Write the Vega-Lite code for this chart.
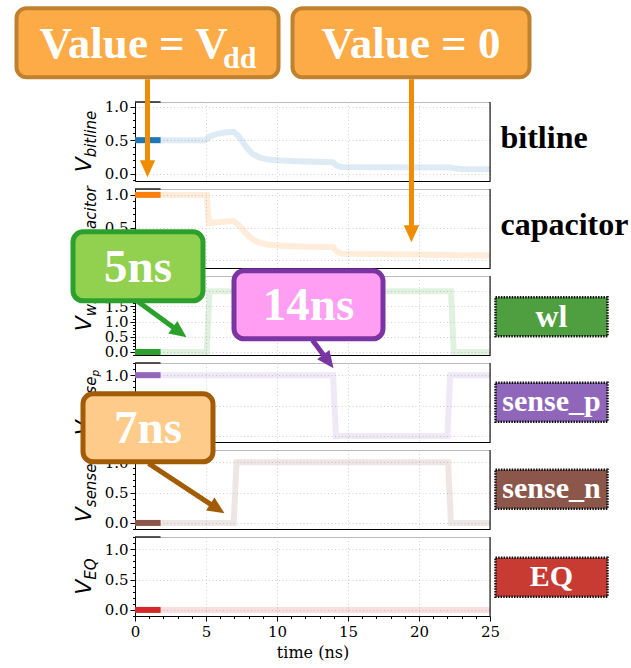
{
"$schema": "https://vega.github.io/schema/vega-lite/v6.json",
"padding": {"left": 14, "top": 5, "right": 0, "bottom": 2},
"background": "white",
"spacing": 8,
"bounds": "flush",
"config": {
 "view": {"stroke": "#bbbbbb", "strokeWidth": 1},
 "axis": {"labelFont": "DejaVu Serif", "labelFontSize": 15, "labelColor": "#000000", "domainColor": "#000000", "domainWidth": 1, "tickColor": "#000000", "tickWidth": 1, "gridColor": "#d2d2d2", "gridDash": [1, 2.5], "gridWidth": 1, "titleFont": "DejaVu Serif", "titleFontWeight": "normal", "titleColor": "#000000", "labelOverlap": false, "labelFlush": false, "labelPadding": 2}
},
"datasets": {
 "bitline": [{"t":0,"v":0.5},{"t":4.95,"v":0.5},{"t":5.3,"v":0.56},{"t":5.8,"v":0.595},{"t":6.3,"v":0.615},{"t":6.95,"v":0.625},{"t":7.2,"v":0.58},{"t":7.5,"v":0.5},{"t":7.9,"v":0.38},{"t":8.3,"v":0.29},{"t":8.8,"v":0.24},{"t":9.4,"v":0.21},{"t":10.3,"v":0.195},{"t":12,"v":0.18},{"t":13.95,"v":0.17},{"t":14.2,"v":0.12},{"t":14.5,"v":0.1},{"t":18,"v":0.095},{"t":22.2,"v":0.092},{"t":22.6,"v":0.075},{"t":23,"v":0.068},{"t":25,"v":0.066}],
 "bitline_now": [{"t":0,"v":0.5},{"t":1.8,"v":0.5}],
 "capacitor": [{"t":0,"v":1},{"t":5.05,"v":1},{"t":5.2,"v":0.57},{"t":6.2,"v":0.59},{"t":6.95,"v":0.6},{"t":7.3,"v":0.54},{"t":7.7,"v":0.44},{"t":8.1,"v":0.35},{"t":8.6,"v":0.28},{"t":9.3,"v":0.24},{"t":10.2,"v":0.22},{"t":12,"v":0.205},{"t":13.95,"v":0.2},{"t":14.25,"v":0.13},{"t":14.55,"v":0.1},{"t":16,"v":0.095},{"t":20,"v":0.085},{"t":22.5,"v":0.078},{"t":25,"v":0.07}],
 "capacitor_now": [{"t":0,"v":1},{"t":1.8,"v":1}],
 "wl": [{"t":0,"v":0},{"t":5.05,"v":0},{"t":5.25,"v":2},{"t":22.25,"v":2},{"t":22.45,"v":0},{"t":25,"v":0}],
 "wl_now": [{"t":0,"v":0},{"t":1.8,"v":0}],
 "sense_p": [{"t":0,"v":1},{"t":13.95,"v":1},{"t":14.15,"v":0},{"t":22.0,"v":0},{"t":22.2,"v":1},{"t":25,"v":1}],
 "sense_p_now": [{"t":0,"v":1},{"t":1.8,"v":1}],
 "sense_n": [{"t":0,"v":0},{"t":6.95,"v":0},{"t":7.15,"v":1},{"t":22.05,"v":1},{"t":22.25,"v":0},{"t":25,"v":0}],
 "sense_n_now": [{"t":0,"v":0},{"t":1.8,"v":0}],
 "EQ": [{"t":0,"v":0},{"t":25,"v":0}],
 "EQ_now": [{"t":0,"v":0},{"t":1.8,"v":0}]
},
"vconcat": [
 {"width": 355, "height": 79,
  "encoding": {"x": {"field": "t", "type": "quantitative", "scale": {"domain": [0, 25], "nice": false, "zero": false}, "axis": {"values": [0,5,10,15,20,25], "labels": false, "ticks": false, "title": null}},
   "y": {"field": "v", "type": "quantitative", "scale": {"domain": [-0.11, 1.07], "nice": false, "zero": false}, "axis": {"title": null, "values": [-0.1,0,0.1,0.2,0.3,0.4,0.5,0.6,0.7,0.8,0.9,1], "labelExpr": "indexof([0,0.5,1,1.5,2], datum.value) >= 0 ? format(datum.value, '.1f') : ''", "tickSize": {"condition": {"test": "indexof([0,0.5,1,1.5,2], datum.value) >= 0", "value": 5}, "value": 2.5}, "gridOpacity": {"condition": {"test": "indexof([0,0.5,1,1.5,2], datum.value) >= 0", "value": 1}, "value": 0}}}},
  "layer": [
  {"data": {"name": "bitline"}, "mark": {"type": "line", "color": "#1f77b4", "opacity": 0.15, "strokeWidth": 6, "strokeCap": "butt"}},
  {"data": {"name": "bitline_now"}, "mark": {"type": "line", "color": "#1f77b4", "strokeWidth": 6, "strokeCap": "butt"}},
  {"data": {"values": [{"t": 25, "v": -0.11, "v2": 1.07}]}, "mark": {"type": "rule", "color": "#000000", "strokeWidth": 1}, "encoding": {"y2": {"field": "v2"}}},
  {"data": {"values": [{"t": 0, "t2": 1.8, "v": 1.07}]}, "mark": {"type": "rule", "color": "#222222", "strokeWidth": 1.5}, "encoding": {"x2": {"field": "t2"}}},
  {"data": {"values": [{"t": -3.13, "v": 0.019, "label": "V"}]}, "mark": {"type": "text", "font": "DejaVu Sans", "fontStyle": "italic", "fontSize": 22, "angle": 270, "align": "left", "baseline": "alphabetic", "color": "#000000", "clip": false}, "encoding": {"text": {"field": "label"}}},
  {"data": {"values": [{"t": -2.78, "v": 0.243, "label": "bitline"}]}, "mark": {"type": "text", "font": "DejaVu Sans", "fontStyle": "italic", "fontSize": 15, "angle": 270, "align": "left", "baseline": "alphabetic", "color": "#000000", "clip": false}, "encoding": {"text": {"field": "label"}}},
  {"data": {"values": [{"t": 25.74, "v": 0.378, "label": "bitline"}]}, "mark": {"type": "text", "font": "Liberation Serif", "fontWeight": "bold", "fontSize": 32, "align": "left", "baseline": "alphabetic", "color": "#000000", "clip": false}, "encoding": {"text": {"field": "label"}}}
 ]},
 {"width": 355, "height": 79,
  "encoding": {"x": {"field": "t", "type": "quantitative", "scale": {"domain": [0, 25], "nice": false, "zero": false}, "axis": {"values": [0,5,10,15,20,25], "labels": false, "ticks": false, "title": null}},
   "y": {"field": "v", "type": "quantitative", "scale": {"domain": [-0.12, 1.09], "nice": false, "zero": false}, "axis": {"title": null, "values": [-0.1,0,0.1,0.2,0.3,0.4,0.5,0.6,0.7,0.8,0.9,1], "labelExpr": "indexof([0,0.5,1,1.5,2], datum.value) >= 0 ? format(datum.value, '.1f') : ''", "tickSize": {"condition": {"test": "indexof([0,0.5,1,1.5,2], datum.value) >= 0", "value": 5}, "value": 2.5}, "gridOpacity": {"condition": {"test": "indexof([0,0.5,1,1.5,2], datum.value) >= 0", "value": 1}, "value": 0}}}},
  "layer": [
  {"data": {"name": "capacitor"}, "mark": {"type": "line", "color": "#ff7f0e", "opacity": 0.15, "strokeWidth": 6, "strokeCap": "butt"}},
  {"data": {"name": "capacitor_now"}, "mark": {"type": "line", "color": "#ff7f0e", "strokeWidth": 6, "strokeCap": "butt"}},
  {"data": {"values": [{"t": 25, "v": -0.12, "v2": 1.09}]}, "mark": {"type": "rule", "color": "#000000", "strokeWidth": 1}, "encoding": {"y2": {"field": "v2"}}},
  {"data": {"values": [{"t": 0, "t2": 1.8, "v": 1.09}]}, "mark": {"type": "rule", "color": "#222222", "strokeWidth": 1.5}, "encoding": {"x2": {"field": "t2"}}},
  {"data": {"values": [{"t": -3.13, "v": -0.164, "label": "V"}]}, "mark": {"type": "text", "font": "DejaVu Sans", "fontStyle": "italic", "fontSize": 22, "angle": 270, "align": "left", "baseline": "alphabetic", "color": "#000000", "clip": false}, "encoding": {"text": {"field": "label"}}},
  {"data": {"values": [{"t": -2.78, "v": 0.065, "label": "capacitor"}]}, "mark": {"type": "text", "font": "DejaVu Sans", "fontStyle": "italic", "fontSize": 15, "angle": 270, "align": "left", "baseline": "alphabetic", "color": "#000000", "clip": false}, "encoding": {"text": {"field": "label"}}},
  {"data": {"values": [{"t": 25.74, "v": 0.381, "label": "capacitor"}]}, "mark": {"type": "text", "font": "Liberation Serif", "fontWeight": "bold", "fontSize": 32, "align": "left", "baseline": "alphabetic", "color": "#000000", "clip": false}, "encoding": {"text": {"field": "label"}}},
  {"data": {"values": [{"t": 0.88, "v": 2.77, "v2": 1.5}, {"t": 19.47, "v": 2.77, "v2": 0.51}]}, "mark": {"type": "rule", "color": "#f08c00", "strokeWidth": 5, "strokeCap": "butt", "clip": false}, "encoding": {"y2": {"field": "v2"}}},
  {"data": {"values": [{"t": 0.88, "v": 1.269}, {"t": 19.47, "v": 0.274}]}, "mark": {"type": "point", "shape": "M0,0L-0.9,-2L0.9,-2Z", "size": 289, "filled": true, "fill": "#f08c00", "strokeWidth": 0, "opacity": 1, "clip": false}},
  {"data": {"values": [{"t": -8.345, "t2": 10.106, "v": 3.858, "v2": 2.801}, {"t": 11.092, "t2": 27.782, "v": 3.858, "v2": 2.801}]}, "mark": {"type": "rect", "fill": "#fdab46", "stroke": "#c0812f", "strokeWidth": 4, "cornerRadius": 10, "clip": false}, "encoding": {"x2": {"field": "t2"}, "y2": {"field": "v2"}}},
  {"data": {"values": [{"t": -6.725, "v": 3.096, "label": "Value = V"}]}, "mark": {"type": "text", "font": "Liberation Serif", "fontWeight": "bold", "fontSize": 45, "align": "left", "baseline": "alphabetic", "color": "#ffffff", "clip": false}, "encoding": {"text": {"field": "label"}}},
  {"data": {"values": [{"t": 6.2, "v": 2.943, "label": "dd"}]}, "mark": {"type": "text", "font": "Liberation Serif", "fontWeight": "bold", "fontSize": 30, "align": "left", "baseline": "alphabetic", "color": "#ffffff", "clip": false}, "encoding": {"text": {"field": "label"}}},
  {"data": {"values": [{"t": 19.437, "v": 3.096, "label": "Value = 0"}]}, "mark": {"type": "text", "font": "Liberation Serif", "fontWeight": "bold", "fontSize": 45, "align": "center", "baseline": "alphabetic", "color": "#ffffff", "clip": false}, "encoding": {"text": {"field": "label"}}}
 ]},
 {"width": 355, "height": 79,
  "encoding": {"x": {"field": "t", "type": "quantitative", "scale": {"domain": [0, 25], "nice": false, "zero": false}, "axis": {"values": [0,5,10,15,20,25], "labels": false, "ticks": false, "title": null}},
   "y": {"field": "v", "type": "quantitative", "scale": {"domain": [-0.1, 2.5], "nice": false, "zero": false}, "axis": {"title": null, "values": [-0.1,0,0.1,0.2,0.3,0.4,0.5,0.6,0.7,0.8,0.9,1,1.1,1.2,1.3,1.4,1.5,1.6,1.7,1.8,1.9,2,2.1,2.2,2.3,2.4,2.5], "labelExpr": "indexof([0,0.5,1,1.5,2], datum.value) >= 0 ? format(datum.value, '.1f') : ''", "tickSize": {"condition": {"test": "indexof([0,0.5,1,1.5,2], datum.value) >= 0", "value": 5}, "value": 2.5}, "gridOpacity": {"condition": {"test": "indexof([0,0.5,1,1.5,2], datum.value) >= 0", "value": 1}, "value": 0}}}},
  "layer": [
  {"data": {"name": "wl"}, "mark": {"type": "line", "color": "#2ca02c", "opacity": 0.15, "strokeWidth": 6, "strokeCap": "butt"}},
  {"data": {"name": "wl_now"}, "mark": {"type": "line", "color": "#2ca02c", "strokeWidth": 6, "strokeCap": "butt"}},
  {"data": {"values": [{"t": 25, "v": -0.1, "v2": 2.5}]}, "mark": {"type": "rule", "color": "#000000", "strokeWidth": 1}, "encoding": {"y2": {"field": "v2"}}},
  {"data": {"values": [{"t": 0, "t2": 1.8, "v": 2.5}]}, "mark": {"type": "rule", "color": "#222222", "strokeWidth": 1.5}, "encoding": {"x2": {"field": "t2"}}},
  {"data": {"values": [{"t": -3.13, "v": 0.683, "label": "V"}]}, "mark": {"type": "text", "font": "DejaVu Sans", "fontStyle": "italic", "fontSize": 22, "angle": 270, "align": "left", "baseline": "alphabetic", "color": "#000000", "clip": false}, "encoding": {"text": {"field": "label"}}},
  {"data": {"values": [{"t": -2.78, "v": 1.177, "label": "wl"}]}, "mark": {"type": "text", "font": "DejaVu Sans", "fontStyle": "italic", "fontSize": 15, "angle": 270, "align": "left", "baseline": "alphabetic", "color": "#000000", "clip": false}, "encoding": {"text": {"field": "label"}}},
  {"data": {"values": [{"t": 25.387, "t2": 33.275, "v": 1.799, "v2": 0.515}]}, "mark": {"type": "rect", "fill": "#4f9e40", "stroke": "#111111", "strokeWidth": 2.5, "strokeDash": [1.5, 1.2], "clip": false}, "encoding": {"x2": {"field": "t2"}, "y2": {"field": "v2"}}},
  {"data": {"values": [{"t": 29.33, "v": 1.157, "label": "wl"}]}, "mark": {"type": "text", "font": "Liberation Serif", "fontWeight": "bold", "fontSize": 32, "align": "center", "baseline": "middle", "color": "#ffffff", "clip": false}, "encoding": {"text": {"field": "label"}}},
  {"data": {"values": [{"t": 0.176, "v": 1.667, "t2": 2.782, "v2": 0.779}]}, "mark": {"type": "rule", "color": "#2ca02c", "strokeWidth": 5, "strokeCap": "butt", "clip": false}, "encoding": {"x2": {"field": "t2"}, "y2": {"field": "v2"}}},
  {"data": {"values": [{"t": 3.627, "v": 0.483}]}, "mark": {"type": "point", "shape": "M0,0L-0.9,-2L0.9,-2Z", "size": 289, "angle": -53.7, "filled": true, "fill": "#2ca02c", "strokeWidth": 0, "opacity": 1, "clip": false}},
  {"data": {"values": [{"t": -4.366, "t2": 4.789, "v": 3.955, "v2": 1.684}]}, "mark": {"type": "rect", "fill": "#92d050", "stroke": "#2ca02c", "strokeWidth": 5, "cornerRadius": 10, "clip": false}, "encoding": {"x2": {"field": "t2"}, "y2": {"field": "v2"}}},
  {"data": {"values": [{"t": 0.211, "v": 2.293, "label": "5ns"}]}, "mark": {"type": "text", "font": "Liberation Serif", "fontWeight": "bold", "fontSize": 47, "align": "center", "baseline": "alphabetic", "color": "#ffffff", "clip": false}, "encoding": {"text": {"field": "label"}}}
 ]},
 {"width": 355, "height": 79,
  "encoding": {"x": {"field": "t", "type": "quantitative", "scale": {"domain": [0, 25], "nice": false, "zero": false}, "axis": {"values": [0,5,10,15,20,25], "labels": false, "ticks": false, "title": null}},
   "y": {"field": "v", "type": "quantitative", "scale": {"domain": [-0.1, 1.2], "nice": false, "zero": false}, "axis": {"title": null, "values": [-0.1,0,0.1,0.2,0.3,0.4,0.5,0.6,0.7,0.8,0.9,1,1.1,1.2], "labelExpr": "indexof([0,0.5,1,1.5,2], datum.value) >= 0 ? format(datum.value, '.1f') : ''", "tickSize": {"condition": {"test": "indexof([0,0.5,1,1.5,2], datum.value) >= 0", "value": 5}, "value": 2.5}, "gridOpacity": {"condition": {"test": "indexof([0,0.5,1,1.5,2], datum.value) >= 0", "value": 1}, "value": 0}}}},
  "layer": [
  {"data": {"name": "sense_p"}, "mark": {"type": "line", "color": "#9467bd", "opacity": 0.15, "strokeWidth": 6, "strokeCap": "butt"}},
  {"data": {"name": "sense_p_now"}, "mark": {"type": "line", "color": "#9467bd", "strokeWidth": 6, "strokeCap": "butt"}},
  {"data": {"values": [{"t": 25, "v": -0.1, "v2": 1.2}]}, "mark": {"type": "rule", "color": "#000000", "strokeWidth": 1}, "encoding": {"y2": {"field": "v2"}}},
  {"data": {"values": [{"t": 0, "t2": 1.8, "v": 1.2}]}, "mark": {"type": "rule", "color": "#222222", "strokeWidth": 1.5}, "encoding": {"x2": {"field": "t2"}}},
  {"data": {"values": [{"t": -3.13, "v": 0.012, "label": "V"}]}, "mark": {"type": "text", "font": "DejaVu Sans", "fontStyle": "italic", "fontSize": 22, "angle": 270, "align": "left", "baseline": "alphabetic", "color": "#000000", "clip": false}, "encoding": {"text": {"field": "label"}}},
  {"data": {"values": [{"t": -2.78, "v": 0.259, "label": "sense"}]}, "mark": {"type": "text", "font": "DejaVu Sans", "fontStyle": "italic", "fontSize": 15, "angle": 270, "align": "left", "baseline": "alphabetic", "color": "#000000", "clip": false}, "encoding": {"text": {"field": "label"}}},
  {"data": {"values": [{"t": -2.57, "v": 0.976, "label": "p"}]}, "mark": {"type": "text", "font": "DejaVu Sans", "fontStyle": "italic", "fontSize": 10.5, "angle": 270, "align": "left", "baseline": "alphabetic", "color": "#000000", "clip": false}, "encoding": {"text": {"field": "label"}}},
  {"data": {"values": [{"t": 25.387, "t2": 33.275, "v": 0.874, "v2": 0.232}]}, "mark": {"type": "rect", "fill": "#9066bb", "stroke": "#111111", "strokeWidth": 2.5, "strokeDash": [1.5, 1.2], "clip": false}, "encoding": {"x2": {"field": "t2"}, "y2": {"field": "v2"}}},
  {"data": {"values": [{"t": 29.33, "v": 0.553, "label": "sense_p"}]}, "mark": {"type": "text", "font": "Liberation Serif", "fontWeight": "bold", "fontSize": 30, "align": "center", "baseline": "middle", "color": "#ffffff", "clip": false}, "encoding": {"text": {"field": "label"}}},
  {"data": {"values": [{"t": 12.5, "v": 1.574, "t2": 13.345, "v2": 1.31}]}, "mark": {"type": "rule", "color": "#7a35a3", "strokeWidth": 5, "strokeCap": "butt", "clip": false}, "encoding": {"x2": {"field": "t2"}, "y2": {"field": "v2"}}},
  {"data": {"values": [{"t": 13.979, "v": 1.113}]}, "mark": {"type": "point", "shape": "M0,0L-0.9,-2L0.9,-2Z", "size": 289, "angle": -36.9, "filled": true, "fill": "#7a35a3", "strokeWidth": 0, "opacity": 1, "clip": false}},
  {"data": {"values": [{"t": 6.972, "t2": 17.465, "v": 2.717, "v2": 1.598}]}, "mark": {"type": "rect", "fill": "#ff9ef2", "stroke": "#7a35a3", "strokeWidth": 5, "cornerRadius": 10, "clip": false}, "encoding": {"x2": {"field": "t2"}, "y2": {"field": "v2"}}},
  {"data": {"values": [{"t": 12.218, "v": 1.903, "label": "14ns"}]}, "mark": {"type": "text", "font": "Liberation Serif", "fontWeight": "bold", "fontSize": 47, "align": "center", "baseline": "alphabetic", "color": "#ffffff", "clip": false}, "encoding": {"text": {"field": "label"}}}
 ]},
 {"width": 355, "height": 79,
  "encoding": {"x": {"field": "t", "type": "quantitative", "scale": {"domain": [0, 25], "nice": false, "zero": false}, "axis": {"values": [0,5,10,15,20,25], "labels": false, "ticks": false, "title": null}},
   "y": {"field": "v", "type": "quantitative", "scale": {"domain": [-0.1, 1.2], "nice": false, "zero": false}, "axis": {"title": null, "values": [-0.1,0,0.1,0.2,0.3,0.4,0.5,0.6,0.7,0.8,0.9,1,1.1,1.2], "labelExpr": "indexof([0,0.5,1,1.5,2], datum.value) >= 0 ? format(datum.value, '.1f') : ''", "tickSize": {"condition": {"test": "indexof([0,0.5,1,1.5,2], datum.value) >= 0", "value": 5}, "value": 2.5}, "gridOpacity": {"condition": {"test": "indexof([0,0.5,1,1.5,2], datum.value) >= 0", "value": 1}, "value": 0}}}},
  "layer": [
  {"data": {"name": "sense_n"}, "mark": {"type": "line", "color": "#8c564b", "opacity": 0.15, "strokeWidth": 6, "strokeCap": "butt"}},
  {"data": {"name": "sense_n_now"}, "mark": {"type": "line", "color": "#8c564b", "strokeWidth": 6, "strokeCap": "butt"}},
  {"data": {"values": [{"t": 25, "v": -0.1, "v2": 1.2}]}, "mark": {"type": "rule", "color": "#000000", "strokeWidth": 1}, "encoding": {"y2": {"field": "v2"}}},
  {"data": {"values": [{"t": 0, "t2": 1.8, "v": 1.2}]}, "mark": {"type": "rule", "color": "#222222", "strokeWidth": 1.5}, "encoding": {"x2": {"field": "t2"}}},
  {"data": {"values": [{"t": -3.13, "v": 0.012, "label": "V"}]}, "mark": {"type": "text", "font": "DejaVu Sans", "fontStyle": "italic", "fontSize": 22, "angle": 270, "align": "left", "baseline": "alphabetic", "color": "#000000", "clip": false}, "encoding": {"text": {"field": "label"}}},
  {"data": {"values": [{"t": -2.78, "v": 0.259, "label": "sense"}]}, "mark": {"type": "text", "font": "DejaVu Sans", "fontStyle": "italic", "fontSize": 15, "angle": 270, "align": "left", "baseline": "alphabetic", "color": "#000000", "clip": false}, "encoding": {"text": {"field": "label"}}},
  {"data": {"values": [{"t": -2.57, "v": 0.976, "label": "n"}]}, "mark": {"type": "text", "font": "DejaVu Sans", "fontStyle": "italic", "fontSize": 10.5, "angle": 270, "align": "left", "baseline": "alphabetic", "color": "#000000", "clip": false}, "encoding": {"text": {"field": "label"}}},
  {"data": {"values": [{"t": 25.387, "t2": 33.275, "v": 0.874, "v2": 0.232}]}, "mark": {"type": "rect", "fill": "#8c564b", "stroke": "#111111", "strokeWidth": 2.5, "strokeDash": [1.5, 1.2], "clip": false}, "encoding": {"x2": {"field": "t2"}, "y2": {"field": "v2"}}},
  {"data": {"values": [{"t": 29.33, "v": 0.553, "label": "sense_n"}]}, "mark": {"type": "text", "font": "Liberation Serif", "fontWeight": "bold", "fontSize": 30, "align": "center", "baseline": "middle", "color": "#ffffff", "clip": false}, "encoding": {"text": {"field": "label"}}},
  {"data": {"values": [{"t": 0.951, "v": 0.981, "t2": 5.387, "v2": 0.298}]}, "mark": {"type": "rule", "color": "#a35c06", "strokeWidth": 5, "strokeCap": "butt", "clip": false}, "encoding": {"x2": {"field": "t2"}, "y2": {"field": "v2"}}},
  {"data": {"values": [{"t": 6.303, "v": 0.158}]}, "mark": {"type": "point", "shape": "M0,0L-0.9,-2L0.9,-2Z", "size": 289, "angle": -56.7, "filled": true, "fill": "#a35c06", "strokeWidth": 0, "opacity": 1, "clip": false}},
  {"data": {"values": [{"t": -3.662, "t2": 5.493, "v": 2.125, "v2": 1.006}]}, "mark": {"type": "rect", "fill": "#fecb8a", "stroke": "#a35c06", "strokeWidth": 5, "cornerRadius": 10, "clip": false}, "encoding": {"x2": {"field": "t2"}, "y2": {"field": "v2"}}},
  {"data": {"values": [{"t": 0.915, "v": 1.31, "label": "7ns"}]}, "mark": {"type": "text", "font": "Liberation Serif", "fontWeight": "bold", "fontSize": 47, "align": "center", "baseline": "alphabetic", "color": "#ffffff", "clip": false}, "encoding": {"text": {"field": "label"}}}
 ]},
 {"width": 355, "height": 79,
  "encoding": {"x": {"field": "t", "type": "quantitative", "scale": {"domain": [0, 25], "nice": false, "zero": false}, "axis": {"title": "time (ns)", "titleFont": "DejaVu Serif", "titleFontSize": 16, "titleFontWeight": "normal", "titlePadding": 5, "labelPadding": 3, "values": [0,1,2,3,4,5,6,7,8,9,10,11,12,13,14,15,16,17,18,19,20,21,22,23,24,25], "labelExpr": "datum.value % 5 === 0 ? datum.label : ''", "tickSize": {"condition": {"test": "datum.value % 5 === 0", "value": 5}, "value": 2.5}, "gridOpacity": {"condition": {"test": "datum.value % 5 === 0", "value": 1}, "value": 0}}},
   "y": {"field": "v", "type": "quantitative", "scale": {"domain": [-0.1, 1.2], "nice": false, "zero": false}, "axis": {"title": null, "values": [-0.1,0,0.1,0.2,0.3,0.4,0.5,0.6,0.7,0.8,0.9,1,1.1,1.2], "labelExpr": "indexof([0,0.5,1,1.5,2], datum.value) >= 0 ? format(datum.value, '.1f') : ''", "tickSize": {"condition": {"test": "indexof([0,0.5,1,1.5,2], datum.value) >= 0", "value": 5}, "value": 2.5}, "gridOpacity": {"condition": {"test": "indexof([0,0.5,1,1.5,2], datum.value) >= 0", "value": 1}, "value": 0}}}},
  "layer": [
  {"data": {"name": "EQ"}, "mark": {"type": "line", "color": "#d62728", "opacity": 0.15, "strokeWidth": 6, "strokeCap": "butt"}},
  {"data": {"name": "EQ_now"}, "mark": {"type": "line", "color": "#d62728", "strokeWidth": 6, "strokeCap": "butt"}},
  {"data": {"values": [{"t": 25, "v": -0.1, "v2": 1.2}]}, "mark": {"type": "rule", "color": "#000000", "strokeWidth": 1}, "encoding": {"y2": {"field": "v2"}}},
  {"data": {"values": [{"t": 0, "t2": 1.8, "v": 1.2}]}, "mark": {"type": "rule", "color": "#222222", "strokeWidth": 1.5}, "encoding": {"x2": {"field": "t2"}}},
  {"data": {"values": [{"t": -3.13, "v": 0.251, "label": "V"}]}, "mark": {"type": "text", "font": "DejaVu Sans", "fontStyle": "italic", "fontSize": 22, "angle": 270, "align": "left", "baseline": "alphabetic", "color": "#000000", "clip": false}, "encoding": {"text": {"field": "label"}}},
  {"data": {"values": [{"t": -2.78, "v": 0.497, "label": "EQ"}]}, "mark": {"type": "text", "font": "DejaVu Sans", "fontStyle": "italic", "fontSize": 15, "angle": 270, "align": "left", "baseline": "alphabetic", "color": "#000000", "clip": false}, "encoding": {"text": {"field": "label"}}},
  {"data": {"values": [{"t": 25.387, "t2": 33.275, "v": 0.858, "v2": 0.216}]}, "mark": {"type": "rect", "fill": "#c83b33", "stroke": "#111111", "strokeWidth": 2.5, "strokeDash": [1.5, 1.2], "clip": false}, "encoding": {"x2": {"field": "t2"}, "y2": {"field": "v2"}}},
  {"data": {"values": [{"t": 29.33, "v": 0.537, "label": "EQ"}]}, "mark": {"type": "text", "font": "Liberation Serif", "fontWeight": "bold", "fontSize": 30, "align": "center", "baseline": "middle", "color": "#ffffff", "clip": false}, "encoding": {"text": {"field": "label"}}}
 ]}
]
}
